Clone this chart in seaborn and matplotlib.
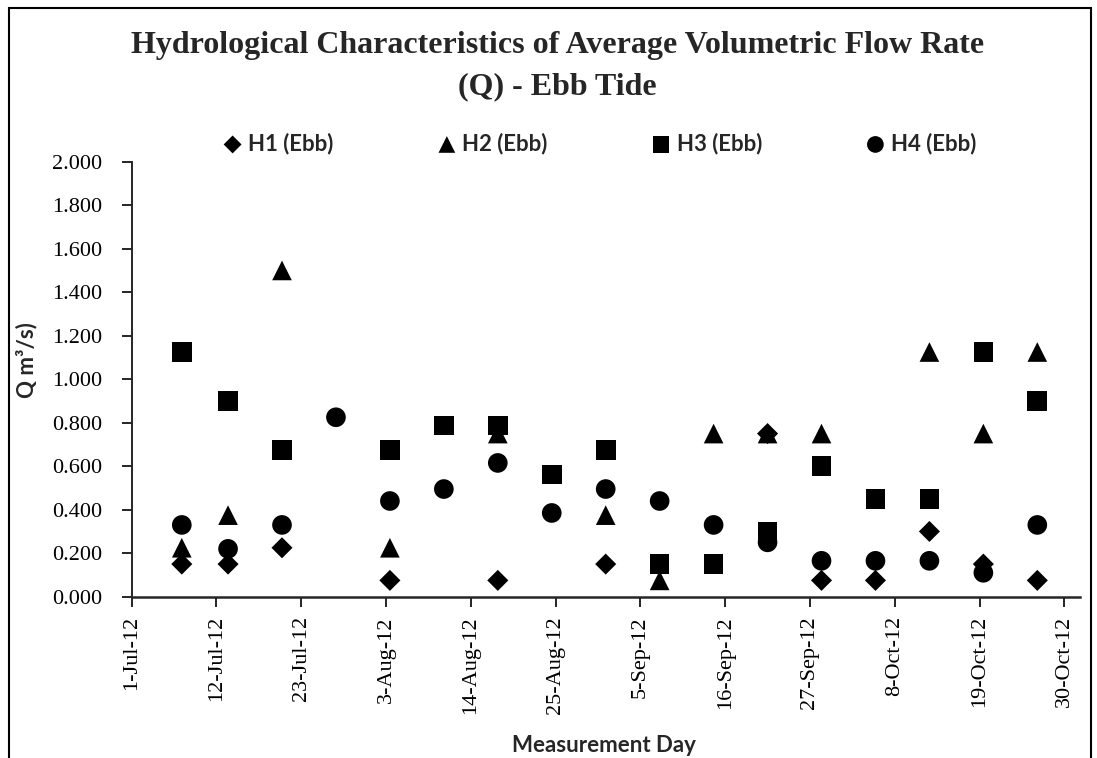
import numpy as np
import pandas as pd
import matplotlib
matplotlib.use("Agg")
import matplotlib.pyplot as plt
import matplotlib.dates as mdates
from matplotlib.patches import Rectangle
import seaborn as sns

# measurement days (ebb tide), Q in m3/s
dates = ["2012-07-07", "2012-07-13", "2012-07-20", "2012-07-27", "2012-08-03",
         "2012-08-10", "2012-08-17", "2012-08-24", "2012-08-31", "2012-09-07",
         "2012-09-14", "2012-09-21", "2012-09-28", "2012-10-05", "2012-10-12",
         "2012-10-19", "2012-10-26"]
h1 = [0.150, 0.150, 0.225, np.nan, 0.075, np.nan, 0.075, np.nan, 0.150, np.nan,
      np.nan, 0.750, 0.075, 0.075, 0.300, 0.150, 0.075]
h2 = [0.225, 0.375, 1.500, np.nan, 0.225, np.nan, 0.750, np.nan, 0.375, 0.075,
      0.750, 0.750, 0.750, np.nan, 1.125, 0.750, 1.125]
h3 = [1.125, 0.900, 0.675, np.nan, 0.675, 0.7875, 0.7875, 0.5625, 0.675, 0.150,
      0.150, 0.300, 0.600, 0.450, 0.450, 1.125, 0.900]
h4 = [0.330, 0.220, 0.330, 0.825, 0.440, 0.495, 0.615, 0.385, 0.495, 0.440,
      0.330, 0.250, 0.165, 0.165, 0.165, 0.110, 0.330]
series_names = ["H1 (Ebb)", "H2 (Ebb)", "H3 (Ebb)", "H4 (Ebb)"]
y_ticks = [0.0, 0.2, 0.4, 0.6, 0.8, 1.0, 1.2, 1.4, 1.6, 1.8, 2.0]

# Excel puts each date in the middle of its day
day = pd.to_datetime(dates) + pd.Timedelta(hours=12)
df = pd.DataFrame({"Day": day, "H1 (Ebb)": h1, "H2 (Ebb)": h2,
                   "H3 (Ebb)": h3, "H4 (Ebb)": h4})
long = df.melt(id_vars="Day", var_name="Station", value_name="Q").dropna()

sns.set_style("ticks")
plt.rcParams["font.family"] = ["Liberation Serif", "DejaVu Serif"]

W, H = 1097, 758
fig = plt.figure(figsize=(W / 100, H / 100), dpi=100)
ax = fig.add_axes([131.7 / W, 1 - 596.7 / H, 948 / W, 435 / H])

markers = {"H1 (Ebb)": "D", "H2 (Ebb)": "^", "H3 (Ebb)": "s", "H4 (Ebb)": "o"}
sizes = {"H1 (Ebb)": 115, "H2 (Ebb)": 200, "H3 (Ebb)": 200, "H4 (Ebb)": 200}
for name in series_names:
    sub = long[long["Station"] == name]
    sns.scatterplot(data=sub, x="Day", y="Q", marker=markers[name], s=sizes[name],
                    color="black", edgecolor="none", label=name, ax=ax, zorder=3)

ax.set_xlim(pd.Timestamp("2012-07-01"), pd.Timestamp("2012-11-01"))
ax.set_ylim(0, 2.0)
ax.set_yticks(y_ticks)
ax.yaxis.set_major_formatter(plt.FormatStrFormatter("%.3f"))
ax.xaxis.set_major_locator(plt.FixedLocator(
    mdates.date2num(pd.date_range("2012-07-01", "2012-10-30", freq="11D"))))
ax.xaxis.set_major_formatter(mdates.DateFormatter("%-d-%b-%y"))

for s in ["top", "right"]:
    ax.spines[s].set_visible(False)
ax.spines["left"].set_linewidth(1.4)
ax.spines["bottom"].set_linewidth(1.8)
ax.tick_params(axis="y", direction="out", length=7, width=1.2, pad=14,
               labelsize=16, colors="black")
ax.tick_params(axis="x", direction="out", length=7, width=1.2, pad=7,
               labelsize=16, labelrotation=90, colors="black")

lab_font = dict(family=["Lato", "DejaVu Sans"], weight="bold", size=16)
ax.set_xlabel("Measurement Day", fontdict=lab_font)
ax.set_ylabel("Q m³/s)", fontdict=lab_font)
ax.xaxis.set_label_coords(0.4985, -0.318)
ax.yaxis.set_label_coords(-0.1, 0.544)

fig.text(0.508, 1 - 46 / H, "Hydrological Characteristics of Average Volumetric Flow Rate",
         ha="center", va="center", fontsize=23, fontweight="bold")
fig.text(0.508, 1 - 87 / H, "(Q) - Ebb Tide",
         ha="center", va="center", fontsize=23, fontweight="bold")

ax.legend(ncol=4, loc="center", bbox_to_anchor=(0.494, 1.042), frameon=False,
          prop={"family": ["Lato", "DejaVu Sans"], "weight": "bold", "size": 16},
          handlelength=0.8, handletextpad=0.3, columnspacing=4.7, borderpad=0,
          markerscale=0.85)

# chart area border (Excel frame)
fig.add_artist(Rectangle((9 / W, -0.1), (1091 - 9) / W, 1.1 - 8 / H,
                         transform=fig.transFigure, fill=False,
                         edgecolor="black", linewidth=1.5))

fig.savefig("out.png", dpi=100, facecolor="white")
